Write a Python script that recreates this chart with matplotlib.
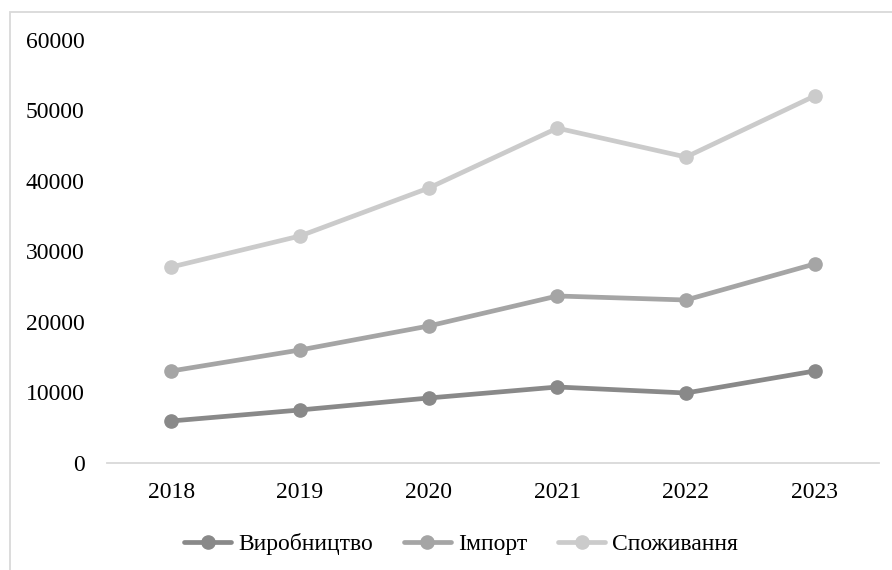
import matplotlib.pyplot as plt
from matplotlib.patches import Rectangle

plt.rcParams['font.family'] = ['Liberation Serif', 'DejaVu Serif']

years = ['2018', '2019', '2020', '2021', '2022', '2023']
vyrobnytstvo = [5960, 7520, 9220, 10780, 9930, 13050]
import_vals = [13050, 16030, 19430, 23690, 23120, 28230]
spozhyvannia = [27800, 32200, 39000, 47500, 43400, 52060]

series = [
    ('Виробництво', vyrobnytstvo, '#898989'),
    ('Імпорт', import_vals, '#a5a5a5'),
    ('Споживання', spozhyvannia, '#cbcbcb'),
]

fig = plt.figure(figsize=(8.92, 5.70), dpi=100)
ax = fig.add_axes([107/892, 1 - 463/570, (879 - 107)/892, (463 - 40)/570])

x = range(len(years))
for name, vals, col in series:
    ax.plot(x, vals, color=col, lw=3.4, marker='o', markersize=9.5,
            label=name, solid_capstyle='round')

ax.set_xlim(-0.5, len(years) - 0.5)
ax.set_ylim(0, 60000)
ax.set_yticks(range(0, 60001, 10000))
ax.set_xticks(list(x))
ax.set_xticklabels(years)
ax.tick_params(length=0, labelsize=17)
ax.tick_params(axis='y', pad=16)
ax.tick_params(axis='x', pad=14)
for s in ['top', 'right', 'left']:
    ax.spines[s].set_visible(False)
ax.spines['bottom'].set_color('#d9d9d9')
ax.spines['bottom'].set_linewidth(1.3)

fig.legend(loc='center', bbox_to_anchor=(461/892, 1 - 544/570), ncol=3,
           frameon=False, fontsize=17, handlelength=2.0, handletextpad=0.3,
           columnspacing=1.3)

fig.patches.append(Rectangle((10/892, -0.1), 1.2, 1 - 12/570 + 0.1,
                             transform=fig.transFigure, fill=False,
                             edgecolor='#d9d9d9', lw=1.3))

fig.savefig('out.png', dpi=100)
